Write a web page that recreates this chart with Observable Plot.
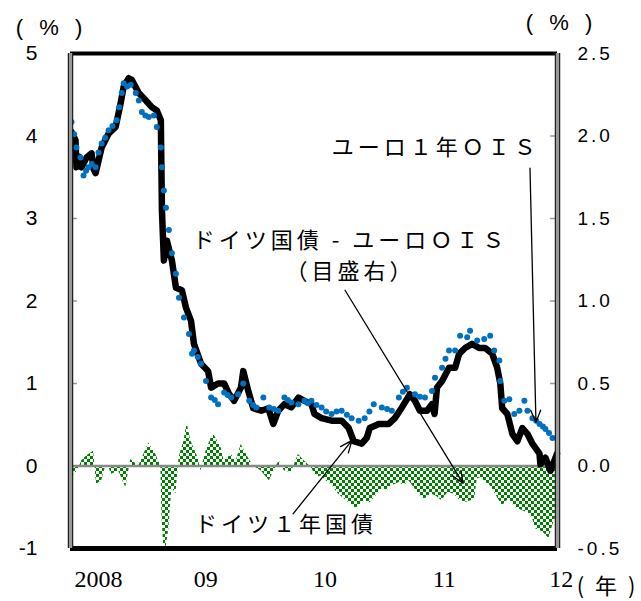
<!DOCTYPE html>
<html><head><meta charset="utf-8">
<script src="https://cdn.jsdelivr.net/npm/d3@7"></script>
<script src="https://cdn.jsdelivr.net/npm/@observablehq/plot@0.6"></script>
<style>
body{margin:0;background:#fff;}
.jp text{letter-spacing:4px}
.rt text{letter-spacing:3px}
.unit text{letter-spacing:5px}
.unit2 text{letter-spacing:3px}
</style></head><body><div id="chart"></div>
<script>
// German 1-year government bond yield (%), left axis  [decimal year, value]
const germany1y = [[2008.008,4.05],[2008.041,3.95],[2008.049,3.62],[2008.07,3.75],[2008.091,3.62],[2008.132,3.74],[2008.173,3.79],[2008.19,3.6],[2008.206,3.55],[2008.256,3.86],[2008.313,4.03],[2008.371,4.11],[2008.412,4.40],[2008.437,4.60],[2008.478,4.70],[2008.503,4.68],[2008.561,4.52],[2008.619,4.43],[2008.668,4.35],[2008.709,4.31],[2008.742,4.19],[2008.746,3.70],[2008.751,3.10],[2008.767,2.49],[2008.792,2.73],[2008.833,2.49],[2008.866,2.16],[2008.915,2.13],[2008.948,1.92],[2008.990,1.76],[2009.014,1.48],[2009.072,1.24],[2009.130,1.15],[2009.155,0.95],[2009.212,1.00],[2009.262,1.00],[2009.30,0.88],[2009.344,0.79],[2009.40,0.95],[2009.419,1.15],[2009.460,0.91],[2009.501,0.70],[2009.567,0.67],[2009.625,0.70],[2009.666,0.51],[2009.707,0.67],[2009.757,0.75],[2009.814,0.71],[2009.872,0.83],[2009.922,0.79],[2009.979,0.75],[2010.004,0.63],[2010.062,0.58],[2010.144,0.55],[2010.227,0.55],[2010.285,0.46],[2010.326,0.30],[2010.392,0.27],[2010.433,0.34],[2010.458,0.46],[2010.532,0.51],[2010.614,0.51],[2010.664,0.58],[2010.722,0.71],[2010.788,0.87],[2010.829,0.79],[2010.870,0.67],[2010.928,0.67],[2010.969,0.75],[2010.99,0.63],[2011.010,0.95],[2011.052,1.03],[2011.109,1.19],[2011.159,1.19],[2011.192,1.36],[2011.241,1.43],[2011.299,1.48],[2011.357,1.43],[2011.406,1.43],[2011.464,1.36],[2011.505,1.19],[2011.530,1.00],[2011.546,0.70],[2011.588,0.63],[2011.629,0.39],[2011.670,0.30],[2011.711,0.46],[2011.753,0.39],[2011.794,0.27],[2011.852,0.15],[2011.860,0.02],[2011.901,0.10],[2011.942,-0.06],[2011.984,0.10],[2011.996,0.15]];

// Euro 1-year OIS (%), left axis
const euroOis1y = [[2008.008,4.17],[2008.030,4.02],[2008.049,3.86],[2008.082,3.74],[2008.107,3.52],[2008.128,3.58],[2008.148,3.62],[2008.175,3.66],[2008.206,3.62],[2008.230,3.80],[2008.256,3.91],[2008.285,3.98],[2008.313,4.07],[2008.345,4.12],[2008.379,4.19],[2008.400,4.35],[2008.421,4.52],[2008.437,4.64],[2008.465,4.60],[2008.495,4.62],[2008.536,4.52],[2008.561,4.43],[2008.586,4.29],[2008.615,4.25],[2008.643,4.23],[2008.685,4.25],[2008.709,4.11],[2008.742,3.86],[2008.751,3.62],[2008.767,3.34],[2008.784,3.13],[2008.808,2.86],[2008.833,2.58],[2008.866,2.33],[2008.891,2.04],[2008.932,1.80],[2008.973,1.60],[2008.998,1.36],[2009.014,1.40],[2009.045,1.32],[2009.072,1.24],[2009.113,1.03],[2009.155,0.83],[2009.185,0.80],[2009.212,0.75],[2009.262,0.89],[2009.290,0.86],[2009.320,0.83],[2009.377,0.87],[2009.419,1.00],[2009.468,0.79],[2009.500,0.74],[2009.526,0.71],[2009.584,0.83],[2009.633,0.71],[2009.670,0.69],[2009.707,0.67],[2009.757,0.83],[2009.785,0.80],[2009.814,0.77],[2009.872,0.75],[2009.922,0.79],[2009.950,0.76],[2009.979,0.79],[2010.020,0.74],[2010.062,0.71],[2010.100,0.66],[2010.144,0.63],[2010.185,0.66],[2010.227,0.67],[2010.270,0.62],[2010.309,0.58],[2010.367,0.55],[2010.416,0.58],[2010.455,0.66],[2010.491,0.75],[2010.557,0.71],[2010.600,0.69],[2010.639,0.67],[2010.697,0.83],[2010.730,0.90],[2010.763,0.95],[2010.829,0.87],[2010.870,0.84],[2010.911,0.83],[2010.969,0.91],[2010.994,1.07],[2011.052,1.19],[2011.080,1.30],[2011.109,1.40],[2011.159,1.40],[2011.200,1.58],[2011.258,1.56],[2011.282,1.64],[2011.340,1.52],[2011.398,1.54],[2011.447,1.58],[2011.480,1.40],[2011.522,1.28],[2011.530,1.03],[2011.563,0.79],[2011.604,0.81],[2011.645,0.63],[2011.687,0.67],[2011.728,0.79],[2011.753,0.67],[2011.794,0.58],[2011.825,0.55],[2011.852,0.51],[2011.880,0.48],[2011.901,0.45],[2011.930,0.40],[2011.959,0.34],[2011.995,0.34]];

// Spread: German bond - Euro OIS (%), right axis
const spreadDeOis = [[2008.011,-0.07],[2008.066,-0.02],[2008.091,0.03],[2008.132,0.06],[2008.19,0.09],[2008.214,-0.11],[2008.256,-0.09],[2008.297,0.02],[2008.338,-0.05],[2008.396,-0.03],[2008.454,-0.13],[2008.495,0.04],[2008.561,0.0],[2008.602,0.07],[2008.643,0.14],[2008.701,0.07],[2008.742,0.0],[2008.751,-0.30],[2008.767,-0.50],[2008.784,-0.50],[2008.808,-0.38],[2008.833,-0.13],[2008.866,-0.17],[2008.891,0.05],[2008.932,0.15],[2008.957,0.26],[2008.990,0.15],[2009.047,0.05],[2009.072,-0.03],[2009.113,0.09],[2009.155,0.17],[2009.179,0.19],[2009.237,0.11],[2009.262,0.03],[2009.320,0.07],[2009.361,0.03],[2009.402,0.13],[2009.460,0.05],[2009.501,0.0],[2009.567,-0.03],[2009.633,-0.09],[2009.691,0.0],[2009.715,0.03],[2009.757,-0.03],[2009.814,-0.04],[2009.872,0.07],[2009.922,0.03],[2009.979,-0.01],[2010.021,-0.07],[2010.06,-0.06],[2010.10,-0.09],[2010.15,-0.12],[2010.20,-0.17],[2010.25,-0.20],[2010.30,-0.23],[2010.34,-0.26],[2010.37,-0.24],[2010.42,-0.21],[2010.45,-0.23],[2010.50,-0.19],[2010.56,-0.14],[2010.60,-0.15],[2010.64,-0.12],[2010.70,-0.10],[2010.74,-0.12],[2010.78,-0.09],[2010.83,-0.14],[2010.87,-0.18],[2010.91,-0.20],[2010.96,-0.17],[2011.00,-0.18],[2011.05,-0.21],[2011.10,-0.16],[2011.15,-0.17],[2011.20,-0.21],[2011.25,-0.22],[2011.29,-0.21],[2011.32,-0.20],[2011.34,-0.08],[2011.37,-0.07],[2011.41,-0.10],[2011.44,-0.11],[2011.49,-0.17],[2011.53,-0.22],[2011.55,-0.24],[2011.60,-0.20],[2011.65,-0.25],[2011.71,-0.27],[2011.77,-0.29],[2011.80,-0.33],[2011.82,-0.38],[2011.88,-0.40],[2011.93,-0.44],[2011.96,-0.36],[2011.99,-0.30]];

const leftTicks = [-1, 0, 1, 2, 3, 4, 5];
const rightTicks = [-0.5, 0.0, 0.5, 1.0, 1.5, 2.0, 2.5];
const xTickLabels = ["2008", "09", "10", "11", "12"];
const xTickPos = [2008.23, 2009.11, 2010.09, 2011.07, 2012.03];

const labels = [
  {t: 2011.00, v: 3.86, text: "ユーロ１年ＯＩＳ"},
  {t: 2010.30, v: 2.73, text: "ドイツ国債 - ユーロＯＩＳ"},
  {t: 2010.30, v: 2.35, text: "（目盛右）"},
  {t: 2009.77, v: -0.72, text: "ドイツ１年国債"}
];
const arrows = [
  {t1: 2011.774, v1: 3.61, t2: 2011.823, v2: 0.53},
  {t1: 2010.255, v1: 2.13, t2: 2011.224, v2: -0.21},
  {t1: 2009.828, v1: -0.58, t2: 2010.312, v2: 0.31}
];

const defs = () => {
  const g = d3.create("svg:defs");
  const p = g.append("pattern").attr("id", "chk").attr("width", 6).attr("height", 6).attr("patternUnits", "userSpaceOnUse");
  p.append("rect").attr("width", 6).attr("height", 6).attr("fill", "white");
  p.append("rect").attr("width", 3).attr("height", 3).attr("fill", "#008000");
  p.append("rect").attr("x", 3).attr("y", 3).attr("width", 3).attr("height", 3).attr("fill", "#008000");
  return g.node();
};

const unitFont = "'Liberation Sans', Arial, sans-serif";

const chart = Plot.plot({
  width: 641, height: 601,
  marginLeft: 70, marginRight: 84, marginTop: 53, marginBottom: 53,
  x: {domain: [2008, 2012], axis: null},
  y: {domain: [-1, 5], axis: null},
  style: {fontFamily: "'Liberation Sans', Arial, sans-serif", background: "white", overflow: "visible"},
  marks: [
    defs,
    Plot.areaY(spreadDeOis, {x: d => d[0], y: d => d[1] * 2, fill: "url(#chk)"}),
    Plot.ruleY([0], {stroke: "#888", strokeWidth: 2.5}),
    Plot.tickY([1, 2, 3, 4], {y: d => d, stroke: "#999", strokeWidth: 1.5, insetRight: 480}),
    Plot.tickY([1, 2, 3, 4], {y: d => d, stroke: "#999", strokeWidth: 1.5, insetLeft: 480}),
    Plot.line(germany1y, {x: d => d[0], y: d => d[1], stroke: "black", strokeWidth: 6.5, strokeLinejoin: "round", strokeLinecap: "round"}),
    Plot.dot(euroOis1y, {x: d => d[0], y: d => d[1], r: 3, fill: "#0070C0", stroke: null}),
    Plot.ruleY([5], {stroke: "black", strokeWidth: 4}),
    Plot.ruleY([-1], {stroke: "black", strokeWidth: 5}),
    Plot.ruleX([2008, 2012], {stroke: "#222", strokeWidth: 5.5}),
    Plot.ruleX([2008, 2012], {stroke: "#999", strokeWidth: 3}),
    Plot.arrow(arrows, {x1: "t1", y1: "v1", x2: "t2", y2: "v2", stroke: "black", strokeWidth: 1.3, headLength: 15, headAngle: 45}),
    Plot.text(labels, {x: "t", y: "v", text: "text", fontFamily: "'Noto Sans CJK JP', sans-serif", fontSize: 22, fill: "black", className: "jp"}),
    Plot.text(leftTicks, {x: 2008, y: d => d, text: d => String(d), textAnchor: "end", dx: -33, fontSize: 21, fill: "black"}),
    Plot.text(rightTicks, {x: 2012, y: d => d * 2, text: d => d.toFixed(1), textAnchor: "start", dx: 20, fontSize: 19, fill: "black", className: "rt"}),
    Plot.text(xTickLabels, {x: (d, i) => xTickPos[i], text: d => d, frameAnchor: "bottom", lineAnchor: "middle", dy: 31, fontFamily: "'Liberation Serif', 'Times New Roman', serif", fontSize: 24, fill: "black"}),
    Plot.text(["( % )"], {frameAnchor: "top-left", textAnchor: "middle", lineAnchor: "middle", dx: -19, dy: -26, fontFamily: unitFont, fontSize: 22, fill: "black", className: "unit"}),
    Plot.text(["( % )"], {frameAnchor: "top-right", textAnchor: "middle", lineAnchor: "middle", dx: 4, dy: -31, fontFamily: unitFont, fontSize: 22, fill: "black", className: "unit"}),
    Plot.text(["( 年 )"], {frameAnchor: "bottom-right", textAnchor: "middle", lineAnchor: "middle", dx: 50, dy: 38, fontFamily: "'Noto Sans CJK JP', sans-serif", fontSize: 22, fill: "black", className: "unit2"})
  ]
});
document.getElementById("chart").append(chart);
</script></body></html>
